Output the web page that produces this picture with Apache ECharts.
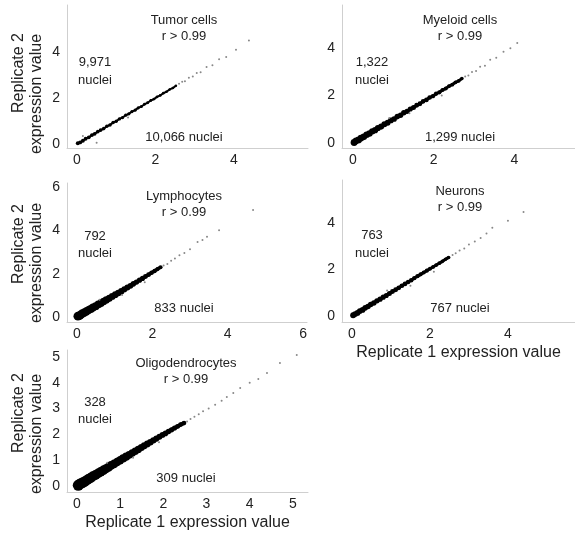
<!DOCTYPE html>
<html>
<head>
<meta charset="utf-8">
<script src="https://cdn.jsdelivr.net/npm/echarts@6/dist/echarts.min.js"></script>
<style>
  html, body { margin: 0; padding: 0; background: #fff; }
  #main { width: 575px; height: 535px; }
</style>
</head>
<body>
<div id="main"></div>
<script>
// panel names and counts
var cellTypes = ['Tumor cells', 'Myeloid cells', 'Lymphocytes', 'Neurons', 'Oligodendrocytes'];
var nucleiRep2 = ['9,971', '1,322', '792', '763', '328'];
var nucleiRep1 = ['10,066', '1,299', '833', '767', '309'];
var corrText = 'r > 0.99';

// tick labels per panel
var xTicks = [[0, 2, 4], [0, 2, 4], [0, 2, 4, 6], [0, 2, 4], [0, 1, 2, 3, 4, 5]];
var yTicks = [[0, 2, 4], [0, 2, 4], [0, 2, 4, 6], [0, 2, 4], [0, 1, 2, 3, 4, 5]];

// dense band of points (replicate 1, replicate 2)
var tumorBand = [[0.02,0.03],[0.08,0.07],[0.15,0.14],[0.22,0.23],[0.3,0.29],[0.38,0.39],[0.45,0.44],[0.53,0.54],[0.6,0.6],[0.68,0.67],[0.76,0.77],[0.84,0.83],[0.92,0.93],[1.0,0.99],[1.08,1.09],[1.16,1.15],[1.24,1.25],[1.32,1.31],[1.4,1.41],[1.48,1.47],[1.56,1.57],[1.64,1.63],[1.72,1.73],[1.8,1.79],[1.88,1.89],[1.96,1.95],[2.04,2.05],[2.12,2.11],[2.2,2.21],[2.28,2.27],[2.36,2.37],[2.44,2.43],[2.52,2.53]];
var myeloidBand = [[0.03,0.02],[0.08,0.09],[0.14,0.13],[0.2,0.21],[0.27,0.26],[0.34,0.35],[0.41,0.4],[0.48,0.49],[0.55,0.54],[0.62,0.63],[0.7,0.69],[0.78,0.79],[0.86,0.85],[0.94,0.95],[1.02,1.01],[1.1,1.11],[1.18,1.17],[1.26,1.27],[1.34,1.33],[1.42,1.43],[1.5,1.49],[1.58,1.59],[1.66,1.65],[1.74,1.75],[1.82,1.81],[1.9,1.91],[1.98,1.97],[2.06,2.07],[2.14,2.13],[2.22,2.23],[2.3,2.29],[2.38,2.39],[2.46,2.45],[2.54,2.55],[2.62,2.61],[2.7,2.71]];
var lymphBand = [[0.03,0.04],[0.08,0.07],[0.13,0.14],[0.19,0.2],[0.25,0.25],[0.31,0.32],[0.37,0.37],[0.43,0.44],[0.5,0.5],[0.57,0.58],[0.64,0.64],[0.71,0.72],[0.78,0.79],[0.86,0.86],[0.94,0.95],[1.02,1.03],[1.1,1.11],[1.18,1.19],[1.26,1.28],[1.34,1.36],[1.42,1.44],[1.5,1.53],[1.58,1.61],[1.66,1.7],[1.74,1.78],[1.82,1.87],[1.9,1.95],[1.98,2.04],[2.06,2.12],[2.14,2.21],[2.22,2.3]];
var neuronBand = [[0.03,0.03],[0.08,0.08],[0.14,0.13],[0.2,0.21],[0.27,0.26],[0.34,0.35],[0.41,0.41],[0.48,0.49],[0.56,0.56],[0.64,0.65],[0.72,0.72],[0.8,0.81],[0.88,0.88],[0.96,0.97],[1.04,1.05],[1.12,1.13],[1.2,1.21],[1.28,1.3],[1.36,1.38],[1.44,1.46],[1.52,1.54],[1.6,1.63],[1.68,1.71],[1.76,1.79],[1.84,1.87],[1.92,1.95],[2.0,2.03],[2.08,2.11],[2.16,2.19],[2.24,2.27],[2.32,2.35],[2.4,2.44],[2.48,2.52]];
var oligoBand = [[0.03,0.03],[0.07,0.08],[0.12,0.12],[0.17,0.17],[0.22,0.22],[0.27,0.28],[0.32,0.32],[0.37,0.38],[0.43,0.43],[0.49,0.49],[0.55,0.55],[0.61,0.61],[0.67,0.67],[0.73,0.73],[0.79,0.8],[0.86,0.86],[0.93,0.93],[1.0,1.0],[1.07,1.07],[1.14,1.14],[1.21,1.21],[1.28,1.28],[1.35,1.35],[1.42,1.42],[1.49,1.49],[1.56,1.56],[1.63,1.63],[1.7,1.7],[1.77,1.77],[1.84,1.84],[1.91,1.91],[1.98,1.98],[2.05,2.04],[2.12,2.11],[2.19,2.18],[2.26,2.25],[2.33,2.31],[2.4,2.38],[2.48,2.44]];

// scattered high-expression points
var tumorSparse = [[2.6,2.62],[2.68,2.7],[2.75,2.73],[2.85,2.88],[2.95,2.93],[3.05,3.08],[3.15,3.12],[3.3,3.35],[3.45,3.42],[3.62,3.68],[3.8,3.78],[4.05,4.1],[4.38,4.5],[0.5,0.05],[1.3,1.15],[0.15,0.35]];
var myeloidSparse = [[2.78,2.8],[2.86,2.84],[2.95,2.98],[3.05,3.03],[3.15,3.2],[3.27,3.25],[3.4,3.5],[3.55,3.58],[3.73,3.83],[3.9,3.98],[4.07,4.2],[1.4,1.25],[0.9,1.05],[2.2,2.0]];
var lymphSparse = [[2.3,2.38],[2.4,2.45],[2.5,2.6],[2.6,2.7],[2.72,2.85],[2.85,2.95],[3.0,3.12],[3.2,3.46],[3.33,3.55],[3.45,3.7],[3.77,4.0],[4.67,4.94],[1.2,1.02],[0.6,0.8],[1.8,1.6]];
var neuronSparse = [[2.58,2.62],[2.66,2.7],[2.76,2.82],[2.88,2.9],[3.0,3.08],[3.15,3.2],[3.3,3.35],[3.45,3.55],[3.6,3.8],[4.0,4.1],[4.4,4.47],[1.5,1.3],[0.9,1.1],[2.1,1.9]];
var oligoSparse = [[2.55,2.5],[2.63,2.6],[2.72,2.68],[2.82,2.78],[2.92,2.9],[3.05,3.0],[3.2,3.15],[3.35,3.3],[3.47,3.45],[3.62,3.6],[3.78,3.8],[4.0,4.0],[4.2,4.15],[4.4,4.38],[4.7,4.77],[5.09,5.08],[1.3,1.1],[0.7,0.9],[1.9,1.7]];

var bands = [tumorBand, myeloidBand, lymphBand, neuronBand, oligoBand];
var sparse = [tumorSparse, myeloidSparse, lymphSparse, neuronSparse, oligoSparse];

// layout of each panel: grid box and axis extents
var panels = [
  {left: 67, top: 5, width: 241, height: 143, x: [-0.255, 5.885], y: [-0.174, 6.04], w: [4, 2.5], ytitle: [73, 94], xtitle: false, cx: 184},
  {left: 342, top: 5, width: 233, height: 143, x: [-0.27, 5.5], y: [-0.21, 5.8], w: [7, 3.5], ytitle: null, xtitle: false, cx: 460},
  {left: 67, top: 183, width: 240, height: 139, x: [-0.26, 6.1], y: [-0.23, 6.18], w: [9, 4], ytitle: [244, 263], xtitle: false, cx: 184},
  {left: 342, top: 180, width: 233, height: 142, x: [-0.256, 5.72], y: [-0.26, 5.85], w: [6, 3.5], ytitle: null, xtitle: true, cx: 460},
  {left: 67, top: 350, width: 241, height: 142, x: [-0.23, 5.35], y: [-0.23, 5.27], w: [11, 4.5], ytitle: [413, 434], xtitle: true, cx: 186}
];

var FONT = 'Liberation Sans, Arial, sans-serif';
var TXT = '#222';
var AXIS = '#cfcfcf';

var chart = echarts.init(document.getElementById('main'));

var grids = [], xAxes = [], yAxes = [], series = [], graphics = [];

function label(text, x, y) {
  graphics.push({
    type: 'text', x: x, y: y,
    style: {text: text, fill: TXT, font: '13px ' + FONT, align: 'center', verticalAlign: 'middle'}
  });
}

function yTitle(text, x, y) {
  graphics.push({
    type: 'text', x: x, y: y, rotation: Math.PI / 2,
    style: {text: text, fill: TXT, font: '16px ' + FONT, align: 'center', verticalAlign: 'middle'}
  });
}

panels.forEach(function (p, i) {
  grids.push({left: p.left, top: p.top, width: p.width, height: p.height});
  xAxes.push({
    gridIndex: i, type: 'value', min: p.x[0], max: p.x[1],
    name: p.xtitle ? 'Replicate 1 expression value' : '',
    nameLocation: 'middle', nameGap: 23,
    nameTextStyle: {color: TXT, fontSize: 16, fontFamily: FONT},
    axisLine: {onZero: false, lineStyle: {color: AXIS, width: 1}},
    axisTick: {show: false},
    splitLine: {show: false},
    axisLabel: {customValues: xTicks[i], color: TXT, fontSize: 14, fontFamily: FONT, margin: 5}
  });
  yAxes.push({
    gridIndex: i, type: 'value', min: p.y[0], max: p.y[1],
    axisLine: {show: true, onZero: false, lineStyle: {color: AXIS, width: 1}},
    axisTick: {show: false},
    splitLine: {show: false},
    axisLabel: {customValues: yTicks[i], color: TXT, fontSize: 14, fontFamily: FONT, margin: 7}
  });
  var xEnd = bands[i][bands[i].length - 1][0];
  // solid core of the band
  series.push({
    type: 'line', xAxisIndex: i, yAxisIndex: i,
    data: bands[i], showSymbol: false, symbol: 'none',
    lineStyle: {color: '#000', width: p.w[1] - 0.5}, silent: true
  });
  series.push({
    type: 'scatter', xAxisIndex: i, yAxisIndex: i,
    data: bands[i], symbol: 'circle',
    symbolSize: function (v) { return p.w[0] - (p.w[0] - p.w[1]) * v[0] / xEnd; },
    itemStyle: {color: '#000', opacity: 1}, silent: true
  });
  series.push({
    type: 'scatter', xAxisIndex: i, yAxisIndex: i,
    data: sparse[i], symbol: 'circle', symbolSize: 2,
    itemStyle: {color: '#888', opacity: 1}, silent: true
  });
  if (p.ytitle) {
    yTitle('Replicate 2', 19, p.ytitle[0]);
    yTitle('expression value', 37, p.ytitle[1]);
  }
});

// panel annotations
var titleY = [[20, 36], [20, 36], [196, 212], [191, 207], [363, 379]];
var leftY = [[62, 80], [62, 80], [236, 253], [235, 253], [402, 419]];
var bottomY = [137, 137, 308, 308, 478];
var leftX = [95, 372, 95, 372, 95];
panels.forEach(function (p, i) {
  label(cellTypes[i], p.cx, titleY[i][0]);
  label(corrText, p.cx, titleY[i][1]);
  label(nucleiRep2[i], leftX[i], leftY[i][0]);
  label('nuclei', leftX[i], leftY[i][1]);
  label(nucleiRep1[i] + ' nuclei', p.cx, bottomY[i]);
});

chart.setOption({
  animation: false,
  backgroundColor: '#fff',
  grid: grids,
  xAxis: xAxes,
  yAxis: yAxes,
  series: series,
  graphic: graphics
});
</script>
</body>
</html>
